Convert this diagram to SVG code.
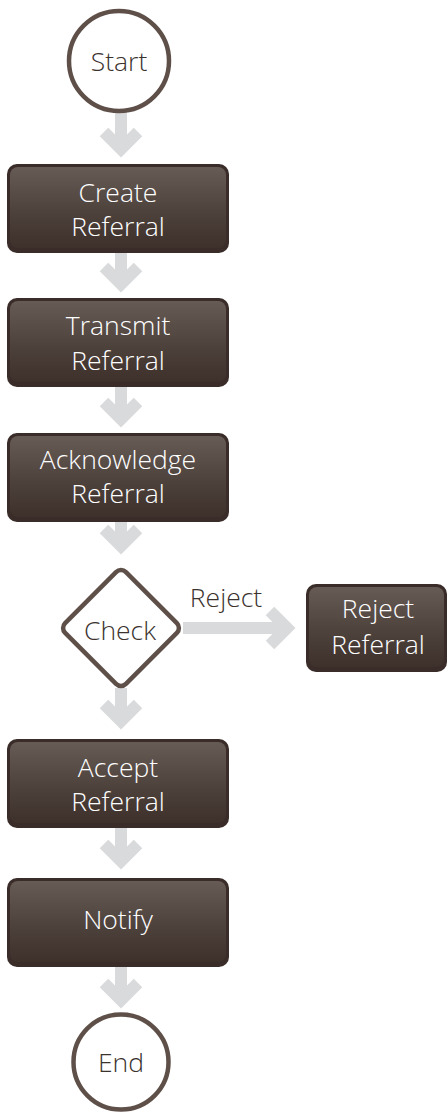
<svg xmlns="http://www.w3.org/2000/svg" width="448" height="1113" viewBox="0 0 448 1113">
  <defs>
    <linearGradient id="boxFill" x1="0" y1="0" x2="0" y2="1">
      <stop offset="0" stop-color="#675b56"/>
      <stop offset="0.55" stop-color="#4e423d"/>
      <stop offset="0.85" stop-color="#433631"/>
      <stop offset="1" stop-color="#3e312c"/>
    </linearGradient>
    <style>
      .bg { fill: #ffffff; }
      .box-outer { fill: #3a2d29; }
      .box-inner { fill: url(#boxFill); }
      .box-text { font-family: "Open Sans", "Noto Sans", sans-serif; font-weight: 300; font-size: 26.5px; fill: #ffffff; text-anchor: middle; }
      .term { fill: #ffffff; stroke: #5e5049; stroke-width: 4.5; }
      .term-text { font-family: "Open Sans", "Noto Sans", sans-serif; font-weight: 300; font-size: 26.5px; fill: #3b322e; text-anchor: middle; }
      .arrow { fill: none; stroke: #d9dadb; stroke-width: 12; stroke-linecap: butt; stroke-linejoin: miter; }
      .label { font-family: "Open Sans", "Noto Sans", sans-serif; font-weight: 300; font-size: 26.5px; fill: #3b322e; text-anchor: middle; }
    </style>
  </defs>

  <rect class="bg" x="0" y="0" width="448" height="1113"/>

  <!-- connectors -->
  <g id="connectors">
    <path class="arrow" d="M121 112 V148 M104 132 L121 149 L138 132"/>
    <path class="arrow" d="M121 253 V283 M104 267 L121 284 L138 267"/>
    <path class="arrow" d="M121 387 V418 M104 402 L121 419 L138 402"/>
    <path class="arrow" d="M121 522 V545 M104 529 L121 546 L138 529"/>
    <path class="arrow" d="M121 688 V720 M104 704 L121 721 L138 704"/>
    <path class="arrow" d="M121 828 V860 M104 844 L121 861 L138 844"/>
    <path class="arrow" d="M121 967 V999 M104 983 L121 1000 L138 983"/>
    <path class="arrow" d="M183 628 H286 M270 611 L287 628 L270 645"/>
    <text class="label" x="226" y="607">Reject</text>
  </g>

  <g id="start">
    <circle class="term" cx="119" cy="61" r="50"/>
    <text class="term-text" x="119" y="71">Start</text>
  </g>

  <g id="create-referral">
    <rect class="box-outer" x="7" y="164" width="222" height="89" rx="10"/>
    <rect class="box-inner" x="10" y="167" width="216" height="81" rx="8"/>
    <text class="box-text" x="118" y="202">Create</text>
    <text class="box-text" x="118" y="236">Referral</text>
  </g>

  <g id="transmit-referral">
    <rect class="box-outer" x="7" y="298" width="222" height="89" rx="10"/>
    <rect class="box-inner" x="10" y="301" width="216" height="81" rx="8"/>
    <text class="box-text" x="118" y="335">Transmit</text>
    <text class="box-text" x="118" y="370">Referral</text>
  </g>

  <g id="acknowledge-referral">
    <rect class="box-outer" x="7" y="433" width="222" height="89" rx="10"/>
    <rect class="box-inner" x="10" y="436" width="216" height="81" rx="8"/>
    <text class="box-text" x="118" y="469">Acknowledge</text>
    <text class="box-text" x="118" y="503">Referral</text>
  </g>

  <g id="check">
    <rect class="term" x="-43" y="-43" width="86" height="86" rx="7" transform="translate(121 628) rotate(45)"/>
    <text class="term-text" x="120" y="640">Check</text>
  </g>

  <g id="reject-referral">
    <rect class="box-outer" x="306" y="584" width="141" height="88" rx="10"/>
    <rect class="box-inner" x="309" y="587" width="135" height="80" rx="8"/>
    <text class="box-text" x="378" y="618">Reject</text>
    <text class="box-text" x="378" y="654">Referral</text>
  </g>

  <g id="accept-referral">
    <rect class="box-outer" x="7" y="739" width="222" height="89" rx="10"/>
    <rect class="box-inner" x="10" y="742" width="216" height="81" rx="8"/>
    <text class="box-text" x="118" y="777">Accept</text>
    <text class="box-text" x="118" y="811">Referral</text>
  </g>

  <g id="notify">
    <rect class="box-outer" x="7" y="878" width="222" height="89" rx="10"/>
    <rect class="box-inner" x="10" y="881" width="216" height="81" rx="8"/>
    <text class="box-text" x="118" y="929">Notify</text>
  </g>

  <g id="end">
    <circle class="term" cx="121" cy="1062" r="47.5"/>
    <text class="term-text" x="121" y="1072">End</text>
  </g>
</svg>
